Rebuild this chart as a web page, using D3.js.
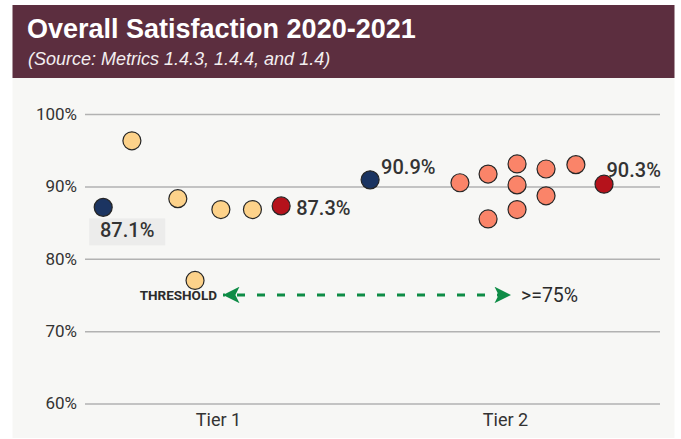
<!DOCTYPE html>
<html>
<head>
<meta charset="utf-8">
<script src="https://cdn.jsdelivr.net/npm/d3@7"></script>
<style>
  body { margin: 0; background: #fff; font-family: Roboto, "Noto Sans", sans-serif; }
</style>
</head>
<body>
<svg id="chart" width="681" height="439"></svg>
<script>
// categories and ticks
var tiers = ["Tier 1", "Tier 2"];
var yTicks = [60, 70, 80, 90, 100];
var threshold = 75;

// highlighted results (navy / red), one per tier
var navyValues = [87.1, 90.9];
var navyJitter = [-0.40, -0.47];
var redValues = [87.3, 90.3];
var redJitter = [0.22, 0.345];

// other institutions in each tier
var tier1Values = [96.3, 88.3, 77.0, 86.8, 86.8];
var tier1Jitter = [-0.30, -0.14, -0.08, 0.01, 0.12];
var tier2Values = [90.5, 91.7, 85.5, 93.1, 90.2, 86.8, 92.4, 88.7, 93.0];
var tier2Jitter = [-0.157, -0.059, -0.059, 0.042, 0.042, 0.042, 0.143, 0.143, 0.247];

var svg = d3.select("#chart");

// header + panel
svg.append("rect").attr("x", 12.5).attr("y", 5).attr("width", 662).attr("height", 73).attr("fill", "#5c2e3f");
svg.append("rect").attr("x", 12.5).attr("y", 78).attr("width", 662).attr("height", 360).attr("fill", "#f7f7f5");

svg.append("text").attr("x", 27).attr("y", 37.5)
  .attr("fill", "#fff").attr("font-size", 27).attr("font-weight", 700)
  .attr("font-family", "'Liberation Sans', Arial, sans-serif")
  .text("Overall Satisfaction 2020-2021");
svg.append("text").attr("x", 28).attr("y", 65)
  .attr("fill", "#f3eef0").attr("font-size", 18).attr("font-style", "italic")
  .attr("font-family", "'Liberation Sans', Arial, sans-serif")
  .text("(Source: Metrics 1.4.3, 1.4.4, and 1.4)");

var x = d3.scaleLinear().domain([0.5, 2.5]).range([74.5, 648.5]);
var y = d3.scaleLinear().domain([60, 100]).range([403.5, 114]);
var left = 85, right = 660;

// y axis as gridlines
var gy = svg.append("g").attr("transform", "translate(" + left + ",0)")
  .call(d3.axisLeft(y).tickValues(yTicks).tickSize(-(right - left)).tickPadding(8)
    .tickFormat(function(d) { return d + "%"; }));
gy.select(".domain").remove();
gy.selectAll("line").attr("stroke", "#b2b2b2").attr("stroke-width", 1.5);
gy.selectAll("text").attr("font-size", 17).attr("fill", "#333").attr("font-family", "Roboto");

// x axis
var gx = svg.append("g").attr("transform", "translate(0," + y(60) + ")")
  .call(d3.axisBottom(x).tickValues([1, 2]).tickSize(0).tickPadding(10)
    .tickFormat(function(d) { return tiers[d - 1]; }));
gx.select(".domain").remove();
gx.selectAll("text").attr("font-size", 18).attr("fill", "#333").attr("font-family", "Roboto");

// threshold arrow
var defs = svg.append("defs");
["start", "end"].forEach(function(k) {
  defs.append("marker").attr("id", "arr-" + k)
    .attr("viewBox", "0 0 10 10").attr("refX", k == "end" ? 10 : 0).attr("refY", 5)
    .attr("markerWidth", 8).attr("markerHeight", 5.5).attr("markerUnits", "strokeWidth")
    .attr("orient", "auto")
    .append("path")
    .attr("d", k == "end" ? "M0,0 L10,5 L0,10 L2.5,5 Z" : "M10,0 L0,5 L10,10 L7.5,5 Z")
    .attr("fill", "#0e8c46");
});
svg.append("line")
  .attr("x1", 223).attr("x2", 511).attr("y1", y(threshold)).attr("y2", y(threshold))
  .attr("stroke", "#0e8c46").attr("stroke-width", 3).attr("stroke-dasharray", "8,12")
  .attr("stroke-dashoffset", -14)
  .attr("marker-start", "url(#arr-start)").attr("marker-end", "url(#arr-end)");
svg.append("text").attr("x", 217).attr("y", y(threshold)).attr("dy", "0.36em")
  .attr("text-anchor", "end").attr("font-size", 13.5).attr("font-weight", 700).attr("fill", "#2b2b2b")
  .text("THRESHOLD");
svg.append("text").attr("x", 521).attr("y", y(threshold)).attr("dy", "0.36em")
  .attr("font-size", 19.5).attr("fill", "#2b2b2b")
  .text(">=" + threshold + "%");

// points
function pts(values, jitter, tier, fill, cls) {
  svg.append("g").attr("class", cls)
    .selectAll("circle")
    .data(values)
    .enter()
    .append("circle")
    .attr("cx", function(d, i) { return x(tier + jitter[i]); })
    .attr("cy", function(d) { return y(d); })
    .attr("r", 9)
    .attr("fill", fill)
    .attr("stroke", "#262626")
    .attr("stroke-width", 1.2);
}
pts(tier1Values, tier1Jitter, 1, "#fdd28a", "tier1");
pts(tier2Values, tier2Jitter, 2, "#fa8469", "tier2");
pts(navyValues, navyJitter, 1, "#1b3461", "navy");
d3.select(".navy").selectAll("circle").attr("cx", function(d, i) { return x(i + 1 + navyJitter[i]); });
pts(redValues, redJitter, 1, "#b5121b", "red");
d3.select(".red").selectAll("circle").attr("cx", function(d, i) { return x(i + 1 + redJitter[i]); });

// value labels
var lbl = svg.append("g").attr("font-size", 20).attr("font-weight", 500).attr("fill", "#333");
var n0x = x(1 + navyJitter[0]), n0y = y(navyValues[0]);
lbl.append("rect").attr("x", n0x - 14).attr("y", n0y + 11).attr("width", 76).attr("height", 27).attr("fill", "#ececeb");
lbl.append("text").attr("x", n0x + 24).attr("y", n0y + 30).attr("text-anchor", "middle").text(navyValues[0] + "%");
lbl.append("text").attr("x", x(2 + navyJitter[1]) + 11).attr("y", y(navyValues[1]) - 6).text(navyValues[1] + "%");
lbl.append("text").attr("x", x(1 + redJitter[0]) + 15).attr("y", y(redValues[0]) + 9.5).text(redValues[0] + "%");
lbl.append("text").attr("x", x(2 + redJitter[1]) + 2.5).attr("y", y(redValues[1]) - 7).text(redValues[1] + "%");
</script>
</body>
</html>
